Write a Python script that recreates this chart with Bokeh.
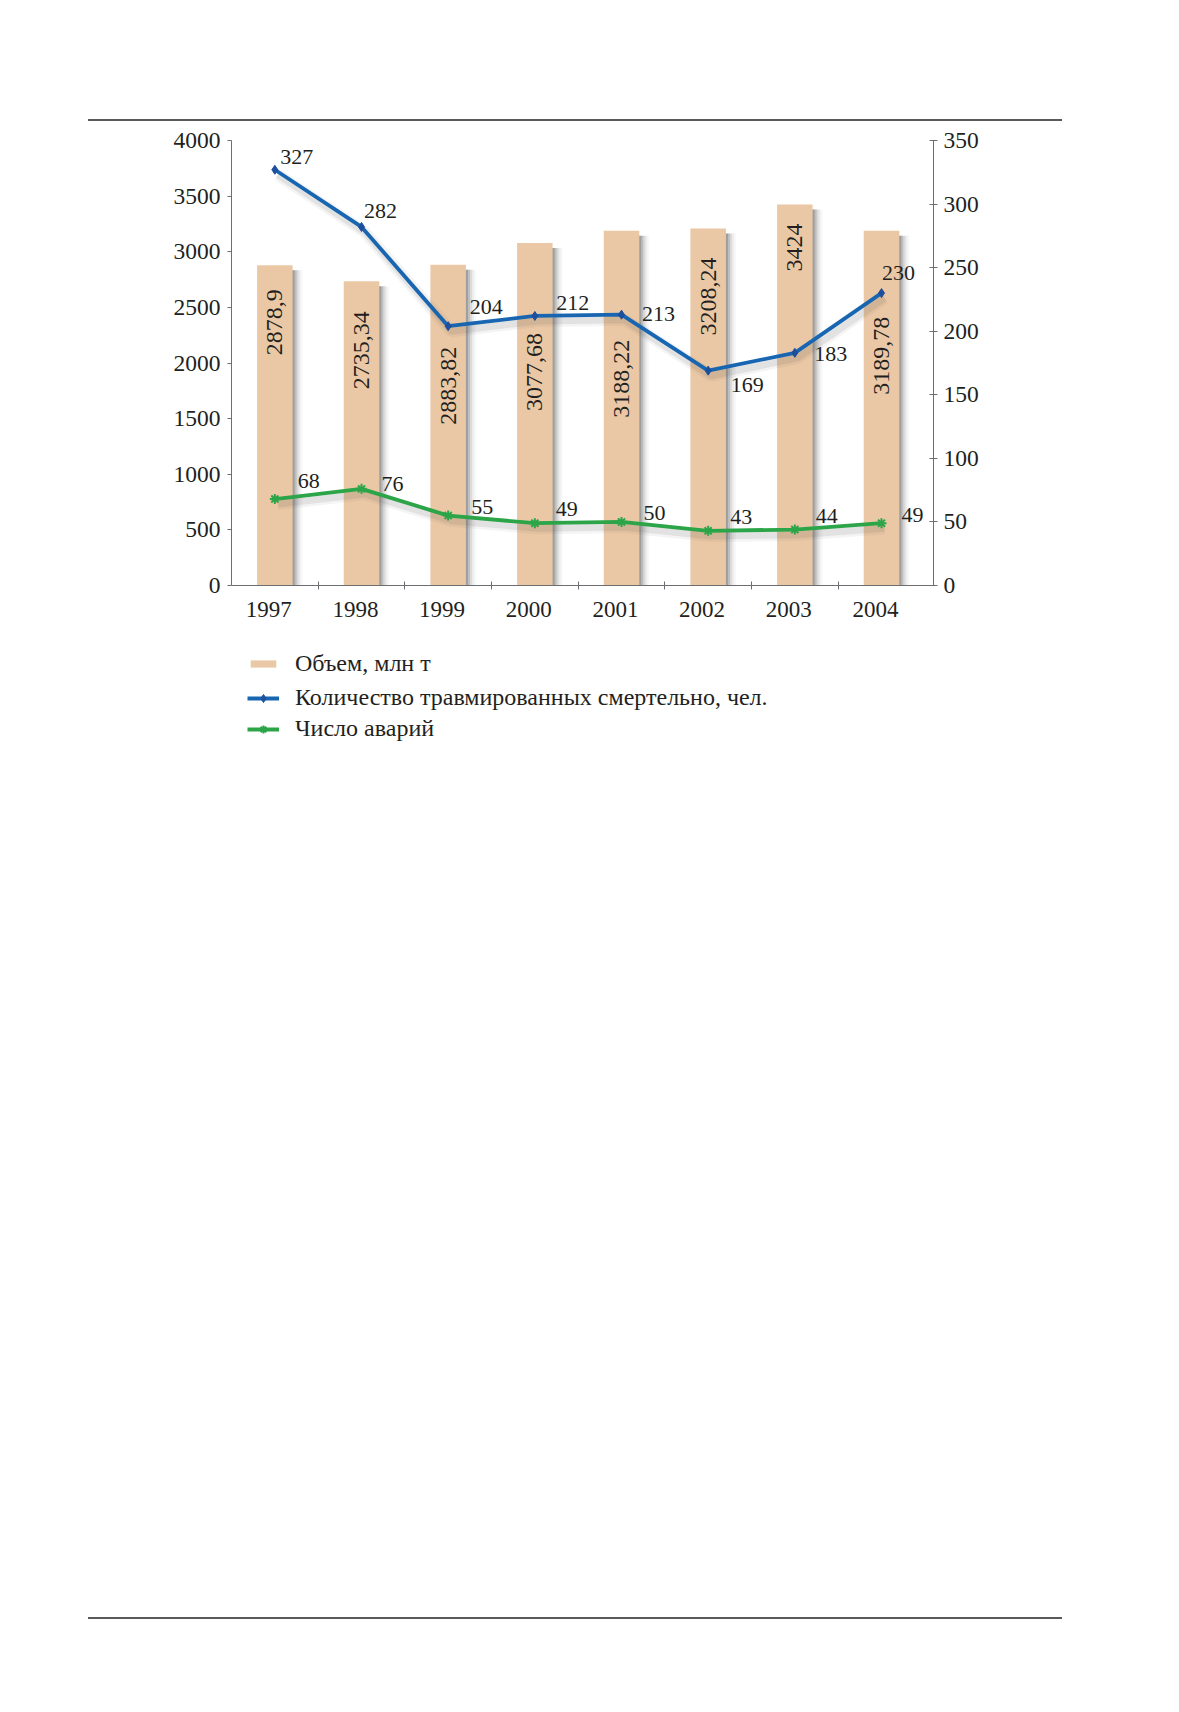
import math
from bokeh.plotting import figure
from bokeh.layouts import column
from bokeh.models import (Range1d, LinearAxis, FixedTicker, ColumnDataSource,
                          Legend, LegendItem, Div)
from bokeh.core.properties import value
from bokeh.embed import file_html
from bokeh.resources import INLINE

# ---- data ----
years = ["1997", "1998", "1999", "2000", "2001", "2002", "2003", "2004"]
volume = [2878.9, 2735.34, 2883.82, 3077.68, 3188.22, 3208.24, 3424, 3189.78]
volume_text = ["2878,9", "2735,34", "2883,82", "3077,68", "3188,22", "3208,24", "3424", "3189,78"]
fatalities = [327, 282, 204, 212, 213, 169, 183, 230]
accidents = [68, 76, 55, 49, 50, 43, 44, 49]
left_ticks = [0, 500, 1000, 1500, 2000, 2500, 3000, 3500, 4000]
right_ticks = [0, 50, 100, 150, 200, 250, 300, 350]
legend_labels = ["Объем, млн т", "Количество травмированных смертельно, чел.", "Число аварий"]

# ---- label layout (screen px offsets) ----
bar_label_dy = [24, 30, 82, 90, 109, 29, 19, 86]
fat_dx = [22, 19, 38, 38, 37, 39, 36, 17]
fat_dy = [-13, -16, -19, -13, -1, 14, 1, -20]
acc_dx = [34, 31, 34, 32, 33, 33, 32, 31]
acc_dy = [-18, -5, -9, -14, -9, -14, -14, -8]
year_label_shift = -0.07   # category units; year labels sit slightly left of bar centres

FONT = "Liberation Serif"
TXT = "#231f20"
AX = "#6d6e71"
RULE = "#58595b"
BAR = "#ebc8a5"
BLUE = "#1866b1"
BLUE_DK = "#1d4f9c"
GREEN = "#2ba548"
W = 1179
FL, FW = 231, 702          # frame left / width shared by the figures
FR = W - FL - FW


def rule_div(gap):
    html = ('<div style="height:%dpx"></div>'
            '<div style="margin-left:88px;width:974px;height:2px;background:%s"></div>'
            % (gap, RULE))
    return Div(text=html, width=W, height=gap + 2, margin=0)


# ---- main chart ----
xs = [i + 0.5 for i in range(len(years))]
src = ColumnDataSource(dict(x=xs, vol=volume, vtxt=volume_text, vdy=bar_label_dy,
                            fat=fatalities, fat_txt=[str(v) for v in fatalities],
                            fdx=fat_dx, fdy=fat_dy,
                            acc=accidents, acc_txt=[str(v) for v in accidents],
                            adx=acc_dx, ady=acc_dy))

p = figure(frame_width=FW, frame_height=445,
           x_range=Range1d(0, 8.1), y_range=Range1d(0, 4000),
           min_border_left=FL, min_border_right=FR, min_border_top=19,
           min_border_bottom=50,
           output_backend="svg", toolbar_location=None)
p.extra_y_ranges = {"right": Range1d(0, 350),
                    "bar_sh": Range1d(45, 4045),
                    "line_sh": Range1d(4, 354)}
p.extra_x_ranges = {"line_sh": Range1d(-0.035, 8.065)}
p.outline_line_color = None
p.grid.visible = False
p.background_fill_color = "white"
p.border_fill_color = "white"

# bar shadows
for k, a in enumerate([0.30, 0.20, 0.12, 0.07, 0.04]):
    p.vbar(x=[x + (2 + 2 * k) / 86.67 for x in xs], top=volume, width=0.41,
           y_range_name="bar_sh", fill_color="#555555", fill_alpha=a, line_color=None)

bars = p.vbar(x="x", top="vol", width=0.41, source=src, fill_color=BAR, line_color=None)

p.text(x="x", y="vol", text="vtxt", source=src, angle=math.pi / 2,
       y_offset="vdy", text_align="right", text_baseline="middle",
       text_font=value(FONT), text_font_size="24px", text_color=TXT)

# line shadows
for w, a in [(12, 0.06), (7, 0.10)]:
    for col in ("fat", "acc"):
        p.line(x="x", y=col, source=src, x_range_name="line_sh", y_range_name="line_sh",
               line_color="#444444", line_alpha=a, line_width=w)

p.line(x="x", y="fat", source=src, y_range_name="right", line_color=BLUE, line_width=3.8)
p.scatter(x="x", y="fat", source=src, y_range_name="right", marker="diamond",
          size=9, fill_color=BLUE_DK, line_color=BLUE_DK)
p.line(x="x", y="acc", source=src, y_range_name="right", line_color=GREEN, line_width=3.8)
p.scatter(x="x", y="acc", source=src, y_range_name="right", marker="asterisk",
          size=10, line_color=GREEN, line_width=2)

p.text(x="x", y="fat", text="fat_txt", source=src, y_range_name="right",
       x_offset="fdx", y_offset="fdy", text_align="center", text_baseline="middle",
       text_font=value(FONT), text_font_size="22px", text_color=TXT)
p.text(x="x", y="acc", text="acc_txt", source=src, y_range_name="right",
       x_offset="adx", y_offset="ady", text_align="center", text_baseline="middle",
       text_font=value(FONT), text_font_size="22px", text_color=TXT)


def style_axis(ax, size="23.5px"):
    ax.axis_line_color = AX
    ax.axis_line_width = 1
    ax.major_tick_line_color = AX
    ax.minor_tick_line_color = None
    ax.major_label_text_font = FONT
    ax.major_label_text_font_size = size
    ax.major_label_text_color = TXT


p.yaxis.ticker = FixedTicker(ticks=left_ticks)
style_axis(p.yaxis[0])
p.yaxis.major_tick_in = 0
p.yaxis.major_tick_out = 4
p.yaxis.major_label_standoff = 7

ry = LinearAxis(y_range_name="right", ticker=FixedTicker(ticks=right_ticks))
style_axis(ry)
ry.major_tick_in = 4
ry.major_tick_out = 4
ry.major_label_standoff = 6
p.add_layout(ry, "right")

xa = p.xaxis[0]
style_axis(xa, "23px")
label_pos = [x + year_label_shift for x in xs]
xa.ticker = FixedTicker(ticks=label_pos, minor_ticks=[1, 2, 3, 4, 5, 6, 7])
xa.major_label_overrides = {x: y for x, y in zip(label_pos, years)}
xa.major_tick_line_color = None
xa.minor_tick_line_color = AX
xa.minor_tick_in = 4
xa.minor_tick_out = 4
xa.major_label_standoff = 10

# ---- legend area (legend renderers sit outside this figure's ranges) ----
LH = 972
lg = figure(frame_width=FW, frame_height=LH,
            min_border_left=FL, min_border_right=FR, min_border_top=0, min_border_bottom=0,
            x_range=Range1d(1000, 1001), y_range=Range1d(100000, 100001),
            x_axis_type=None, y_axis_type=None,
            output_backend="svg", toolbar_location=None)
lg.outline_line_color = None
lg.grid.visible = False
lg.background_fill_color = "white"
lg.border_fill_color = "white"
lg_src = ColumnDataSource(dict(x=xs, vol=volume, fat=fatalities, acc=accidents))
d_bar = lg.vbar(x="x", top="vol", source=lg_src, width=0.0001, fill_color=BAR, line_color=None)
d_l1 = lg.line(x="x", y="fat", source=lg_src, line_color=BLUE, line_width=3.8)
d_m1 = lg.scatter(x="x", y="fat", source=lg_src, marker="diamond", size=9,
                  fill_color=BLUE_DK, line_color=BLUE_DK)
d_l2 = lg.line(x="x", y="acc", source=lg_src, line_color=GREEN, line_width=3.8)
d_m2 = lg.scatter(x="x", y="acc", source=lg_src, marker="asterisk", size=10,
                  line_color=GREEN, line_width=2)


def style_legend(L, gh, spacing):
    L.label_text_font = FONT
    L.label_text_font_size = "24px"
    L.label_text_color = TXT
    L.glyph_width = 32
    L.glyph_height = gh
    L.label_height = 25
    L.spacing = spacing
    L.padding = 0
    L.margin = 0
    L.label_standoff = 16
    L.border_line_color = None
    L.background_fill_alpha = 0


legA = Legend(items=[LegendItem(label=legend_labels[0], renderers=[d_bar])],
              location=(247 - FL, LH - 42))
style_legend(legA, 9, 0)
legB = Legend(items=[LegendItem(label=legend_labels[1], renderers=[d_l1, d_m1]),
                     LegendItem(label=legend_labels[2], renderers=[d_l2, d_m2])],
              location=(247 - FL, LH - 107))
style_legend(legB, 20, 4)
lg.add_layout(legA, "center")
lg.add_layout(legB, "center")

layout = column(rule_div(119), p, lg, rule_div(0), spacing=0)
open("out.html", "w").write(file_html(layout, INLINE))
